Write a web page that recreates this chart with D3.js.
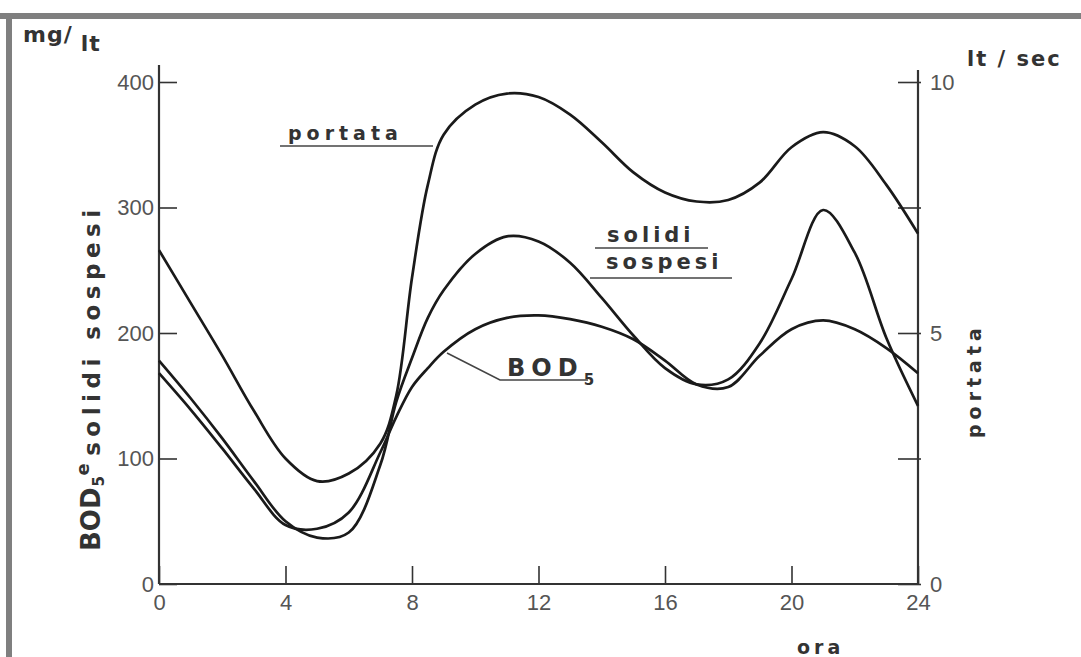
<!DOCTYPE html>
<html>
<head>
<meta charset="utf-8">
<script src="https://cdn.jsdelivr.net/npm/d3@7"></script>
<style>
  body { margin: 0; background: #fff; }
  svg { display: block; }
  .tick text { font-family: "Liberation Sans Narrow", "Liberation Sans", sans-serif; font-size: 22px; fill: #555; }
  .tick line { stroke: #333; stroke-width: 1.6; }
  .lbl { font-family: "DejaVu Sans", sans-serif; font-weight: bold; fill: #333; }
</style>
</head>
<body>
<svg id="chart"></svg>
<script>
const width = 1081,
      height = 657;

// ore del giorno (asse x)
const ore = [0, 1, 2, 3, 4, 5, 6, 7, 7.5, 8, 8.5, 9, 10, 11, 12, 13, 14, 15, 16, 17, 18, 19, 20, 21, 22, 23, 24];

// portata in lt/sec (asse destro)
const portata = [6.65, 5.6, 4.55, 3.45, 2.5, 2.05, 2.2, 2.8, 3.75, 6.1, 7.95, 8.95, 9.55, 9.77, 9.7, 9.35, 8.8, 8.2, 7.8, 7.62, 7.65, 8.0, 8.7, 9.0, 8.72, 7.95, 6.98];

// solidi sospesi in mg/lt
const solidi = [178, 148, 116, 82, 50, 37, 41, 95, 145, 180, 212, 234, 263, 277, 273, 256, 228, 198, 172, 159, 163, 192, 243, 298, 264, 196, 142];

// BOD5 in mg/lt
const bod = [168, 139, 108, 76, 47, 44, 57, 105, 133, 157, 172, 185, 203, 212, 214, 211, 205, 195, 178, 159, 157, 182, 203, 210, 203, 188, 168];

const xTicks = [0, 4, 8, 12, 16, 20, 24];
const yTicks = [0, 100, 200, 300, 400];
const yRTicks = [0, 2.5, 5, 7.5, 10];

const svg = d3.select("#chart")
  .attr("width", width)
  .attr("height", height);

// cornice grigia
svg.append("rect").attr("x", 0).attr("y", 13).attr("width", width).attr("height", 6).attr("fill", "#7f7f7f");
svg.append("rect").attr("x", 6).attr("y", 13).attr("width", 6).attr("height", height - 13).attr("fill", "#7f7f7f");

const x = d3.scaleLinear().domain([0, 24]).range([159, 918]);
const y = d3.scaleLinear().domain([0, 400]).range([584, 82]);
const yR = d3.scaleLinear().domain([0, 10]).range([584, 82]);

// assi
const gx = svg.append("g")
  .attr("transform", `translate(0,${y(0)})`)
  .call(d3.axisBottom(x).tickValues(xTicks).tickSize(-18).tickPadding(10).tickFormat(d3.format("d")));
gx.select(".domain").remove();

const gy = svg.append("g")
  .attr("transform", `translate(${x(0)},0)`)
  .call(d3.axisLeft(y).tickValues(yTicks).tickSize(-18).tickPadding(5).tickFormat(d3.format("d")));
gy.select(".domain").remove();

const gyR = svg.append("g")
  .attr("transform", `translate(${x(24)},0)`)
  .call(d3.axisRight(yR).tickValues(yRTicks).tickSize(-20).tickPadding(12)
    .tickFormat(d => d % 5 === 0 ? d : ""));
gyR.select(".domain").remove();
gyR.selectAll(".tick line").attr("x1", 3);

[
  [x(0), 65, x(0), y(0)],
  [x(24), 70, x(24), y(0)],
  [x(0), y(0), x(24), y(0)]
].forEach(([x1, y1, x2, y2]) => {
  svg.append("line")
    .attr("x1", x1).attr("y1", y1).attr("x2", x2).attr("y2", y2)
    .attr("stroke", "#333").attr("stroke-width", 2.2);
});

// curve
const line = d3.line().curve(d3.curveCatmullRom.alpha(0.5));

const series = [
  { name: "portata", values: portata, scale: yR },
  { name: "solidi", values: solidi, scale: y },
  { name: "bod", values: bod, scale: y }
];

svg.append("g")
  .selectAll("path")
  .data(series)
  .join("path")
  .attr("d", s => line(ore.map((h, i) => [x(h), s.scale(s.values[i])])))
  .attr("fill", "none")
  .attr("stroke", "#1a1a1a")
  .attr("stroke-width", 2.7);

// unità
const mg = svg.append("text").attr("class", "lbl").attr("x", 23).attr("y", 42).attr("font-size", 22).attr("letter-spacing", 1);
mg.append("tspan").text("mg/");
mg.append("tspan").attr("dx", 8).attr("dy", 9).text("lt");

svg.append("text").attr("class", "lbl")
  .attr("x", 967).attr("y", 66).attr("font-size", 21).attr("letter-spacing", 2)
  .text("lt / sec");

// titoli assi
const yl = svg.append("text").attr("class", "lbl")
  .attr("transform", "translate(100,551) rotate(-90)")
  .attr("font-size", 23).attr("letter-spacing", 5.5);
yl.append("tspan").attr("font-size", 26).attr("letter-spacing", 0).text("BOD");
yl.append("tspan").attr("font-size", 15).attr("dy", 4).attr("dx", 1).text("5");
yl.append("tspan").attr("font-size", 18).attr("dy", -15).attr("dx", -5).text("e");
yl.append("tspan").attr("dy", 11).attr("dx", 2).text("solidi sospesi");

svg.append("text").attr("class", "lbl")
  .attr("transform", "translate(981,438) rotate(-90)")
  .attr("font-size", 19).attr("letter-spacing", 5)
  .text("portata");

svg.append("text").attr("class", "lbl")
  .attr("x", 797).attr("y", 654).attr("font-size", 19).attr("letter-spacing", 4)
  .attr("fill", "#555")
  .text("ora");

// etichette delle curve
const curveLabels = [
  { text: "portata", x: 288, y: 140, size: 19, ls: 5, ul: [280, 146, 433, 146] },
  { text: "solidi", x: 607, y: 242, size: 21, ls: 4, ul: [595, 248, 708, 248] },
  { text: "sospesi", x: 606, y: 269, size: 21, ls: 4, ul: [590, 278, 732, 278] }
];
curveLabels.forEach(d => {
  svg.append("text").attr("class", "lbl")
    .attr("x", d.x).attr("y", d.y).attr("font-size", d.size).attr("letter-spacing", d.ls)
    .text(d.text);
  svg.append("line")
    .attr("x1", d.ul[0]).attr("y1", d.ul[1]).attr("x2", d.ul[2]).attr("y2", d.ul[3])
    .attr("stroke", "#444").attr("stroke-width", 1.6);
});

const bodLbl = svg.append("text").attr("class", "lbl")
  .attr("x", 507).attr("y", 376).attr("font-size", 24).attr("letter-spacing", 6);
bodLbl.append("tspan").text("BOD");
bodLbl.append("tspan").attr("font-size", 15).attr("dy", 9).attr("dx", 0).text("5");

svg.append("polyline")
  .attr("points", "447,353 500,380 588,380")
  .attr("fill", "none").attr("stroke", "#444").attr("stroke-width", 1.6);
</script>
</body>
</html>
